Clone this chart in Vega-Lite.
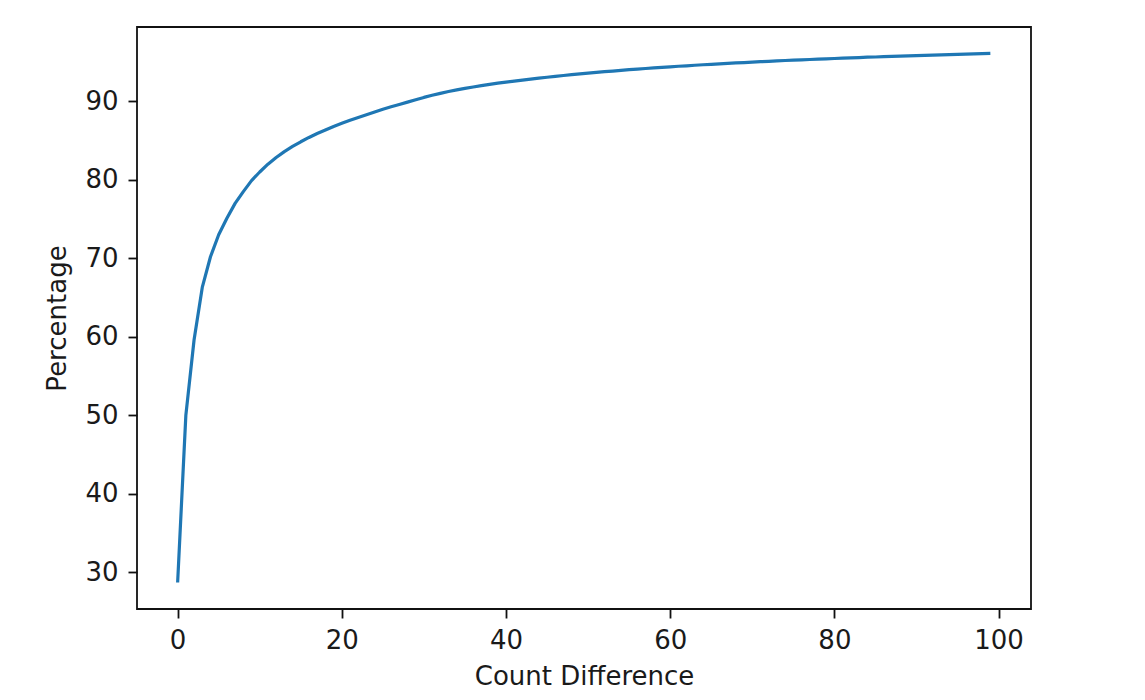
{
  "$schema": "https://vega.github.io/schema/vega-lite/v6.json",
  "autosize": "none",
  "width": 894,
  "height": 582,
  "padding": {"left": 137, "top": 27, "right": 114, "bottom": 91},
  "background": "white",
  "config": {
    "view": {"stroke": "#111", "strokeWidth": 1.8},
    "font": "DejaVu Sans",
    "axis": {
      "domain": false,
      "grid": false,
      "tickColor": "#111",
      "tickWidth": 1.8,
      "tickSize": 9,
      "labelFont": "DejaVu Sans",
      "labelFontSize": 26,
      "labelColor": "#1a1a1a",
      "titleFont": "DejaVu Sans",
      "titleFontSize": 26,
      "titleFontWeight": "normal",
      "titleColor": "#1a1a1a"
    }
  },
  "data": {
    "values": [
      {"diff": 0, "pct": 28.7}, {"diff": 1, "pct": 50.0}, {"diff": 2, "pct": 59.6}, {"diff": 3, "pct": 66.3},
      {"diff": 4, "pct": 70.2}, {"diff": 5, "pct": 73.0}, {"diff": 6, "pct": 75.1}, {"diff": 7, "pct": 77.0},
      {"diff": 8, "pct": 78.5}, {"diff": 9, "pct": 79.9}, {"diff": 10, "pct": 81.0}, {"diff": 11, "pct": 82.0},
      {"diff": 12, "pct": 82.85}, {"diff": 13, "pct": 83.6}, {"diff": 14, "pct": 84.25}, {"diff": 15, "pct": 84.85},
      {"diff": 16, "pct": 85.4}, {"diff": 17, "pct": 85.9}, {"diff": 18, "pct": 86.35}, {"diff": 19, "pct": 86.8},
      {"diff": 20, "pct": 87.2}, {"diff": 21, "pct": 87.6}, {"diff": 22, "pct": 87.95}, {"diff": 23, "pct": 88.3},
      {"diff": 24, "pct": 88.65}, {"diff": 25, "pct": 89.0}, {"diff": 26, "pct": 89.3}, {"diff": 27, "pct": 89.6},
      {"diff": 28, "pct": 89.9}, {"diff": 29, "pct": 90.2}, {"diff": 30, "pct": 90.5}, {"diff": 31, "pct": 90.77},
      {"diff": 32, "pct": 91.02}, {"diff": 33, "pct": 91.25}, {"diff": 34, "pct": 91.46}, {"diff": 35, "pct": 91.65},
      {"diff": 36, "pct": 91.83}, {"diff": 37, "pct": 92.0}, {"diff": 38, "pct": 92.16}, {"diff": 39, "pct": 92.31},
      {"diff": 40, "pct": 92.45}, {"diff": 41, "pct": 92.58}, {"diff": 42, "pct": 92.71}, {"diff": 43, "pct": 92.84},
      {"diff": 44, "pct": 92.96}, {"diff": 45, "pct": 93.07}, {"diff": 46, "pct": 93.19}, {"diff": 47, "pct": 93.29},
      {"diff": 48, "pct": 93.4}, {"diff": 49, "pct": 93.5}, {"diff": 50, "pct": 93.59}, {"diff": 51, "pct": 93.69},
      {"diff": 52, "pct": 93.78}, {"diff": 53, "pct": 93.86}, {"diff": 54, "pct": 93.95}, {"diff": 55, "pct": 94.03},
      {"diff": 56, "pct": 94.11}, {"diff": 57, "pct": 94.18}, {"diff": 58, "pct": 94.26}, {"diff": 59, "pct": 94.33},
      {"diff": 60, "pct": 94.4}, {"diff": 61, "pct": 94.47}, {"diff": 62, "pct": 94.53}, {"diff": 63, "pct": 94.6},
      {"diff": 64, "pct": 94.66}, {"diff": 65, "pct": 94.72}, {"diff": 66, "pct": 94.78}, {"diff": 67, "pct": 94.83},
      {"diff": 68, "pct": 94.89}, {"diff": 69, "pct": 94.94}, {"diff": 70, "pct": 95.0}, {"diff": 71, "pct": 95.05},
      {"diff": 72, "pct": 95.1}, {"diff": 73, "pct": 95.15}, {"diff": 74, "pct": 95.2}, {"diff": 75, "pct": 95.24},
      {"diff": 76, "pct": 95.29}, {"diff": 77, "pct": 95.33}, {"diff": 78, "pct": 95.38}, {"diff": 79, "pct": 95.42},
      {"diff": 80, "pct": 95.46}, {"diff": 81, "pct": 95.5}, {"diff": 82, "pct": 95.54}, {"diff": 83, "pct": 95.58},
      {"diff": 84, "pct": 95.62}, {"diff": 85, "pct": 95.65}, {"diff": 86, "pct": 95.69}, {"diff": 87, "pct": 95.73},
      {"diff": 88, "pct": 95.76}, {"diff": 89, "pct": 95.79}, {"diff": 90, "pct": 95.83}, {"diff": 91, "pct": 95.86},
      {"diff": 92, "pct": 95.89}, {"diff": 93, "pct": 95.92}, {"diff": 94, "pct": 95.95}, {"diff": 95, "pct": 95.98},
      {"diff": 96, "pct": 96.01}, {"diff": 97, "pct": 96.04}, {"diff": 98, "pct": 96.07}, {"diff": 99, "pct": 96.1}
    ]
  },
  "mark": {"type": "line", "color": "#1f77b4", "strokeWidth": 3.2, "strokeJoin": "round"},
  "encoding": {
    "x": {
      "field": "diff",
      "type": "quantitative",
      "scale": {"domain": [-4.95, 103.95], "nice": false, "zero": false},
      "axis": {"title": "Count Difference", "values": [0, 20, 40, 60, 80, 100], "labelPadding": 9, "titlePadding": 10}
    },
    "y": {
      "field": "pct",
      "type": "quantitative",
      "scale": {"domain": [25.33, 99.47], "nice": false, "zero": false},
      "axis": {"title": "Percentage", "values": [30, 40, 50, 60, 70, 80, 90], "labelPadding": 10, "titlePadding": 14}
    }
  }
}
